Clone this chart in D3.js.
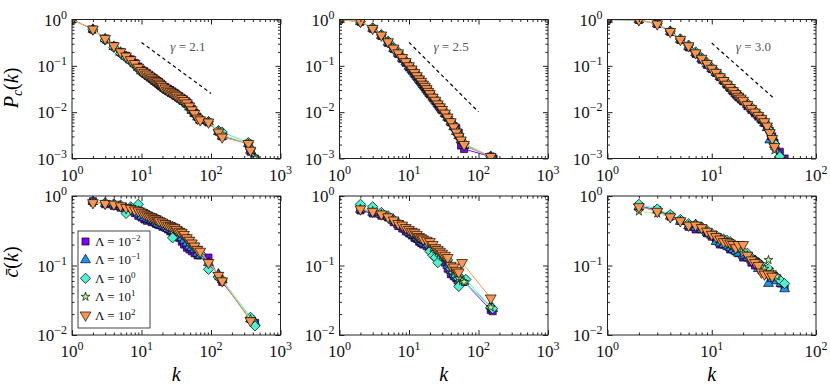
<!DOCTYPE html>
<html>
<head>
<meta charset="utf-8">
<style>
  body { margin: 0; background: #fff; }
  svg { display: block; }
  text { font-family: "Liberation Serif", "Times New Roman", serif; }
</style>
</head>
<body>
<svg id="chart" width="830" height="388" font-family="Liberation Serif, serif"></svg>
<script src="https://d3js.org/d3.v7.min.js"></script>
<script>
// ---- data -------------------------------------------------------------
var lambdaExp = ["\u22122", "\u22121", "0", "1", "2"]
var seriesColors = ["#8000ff", "#1a96f2", "#4df2ce", "#b3f296", "#ff964f"]
var gammas = ["2.1", "2.5", "3.0"]
var xMax = [1000, 1000, 100]

// top row: P_c(k)
var k_pc21 = [1,2,3,4,5,6,7,8,9,10,11,12,13,14,15,16,17,18,19,20,22,24,26,28,30,32,35,38,41,45,49,53,58,64,70,92,128,145,345,370,430]
var pc21_Lm2 = [1,.61,.39,.27,.20,.165,.138,.116,.097,.083, .076,.069,.063,.058,.054,.050,.047,.044,.041,.038, .035,.032,.030,.028,.026, .024,.022,.020,.0185,.0165,.0140,.0118,.0098,.0080,.0068, .0060,.0038,.0030, .0021,.0014,.0010]
var pc21_Lm1 = [1,.61,.38,.26,.195,.158,.132,.110,.091,.077, .070,.064,.058,.054,.050,.046,.043,.040,.038,.035, .032,.029,.027,.025,.024, .022,.020,.019,.017,.015,.0128,.0108,.0093,.0078,.0067, .0061,.0038,.0030, .0021,.0015,.0010]
var pc21_L0  = [1,.60,.36,.25,.185,.150,.125,.104,.087,.073, .066,.060,.055,.050,.047,.044,.041,.038,.036,.033, .030,.028,.026,.024,.023, .021,.019,.018,.016,.0145,.0125,.0106,.0092,.0078,.0068, .0062,.0040,.0037, .0022,.0016,.0010]
var pc21_L1  = [1,.61,.37,.26,.19,.155,.130,.108,.090,.076, .069,.063,.057,.052,.049,.045,.042,.039,.037,.034, .031,.029,.027,.025,.024, .022,.020,.018,.017,.015,.013,.011,.0094,.0078,.0068, .0061,.0039,.0033, .0021,.0015,.0010]
var pc21_L2  = [1,.62,.39,.27,.20,.162,.135,.112,.093,.079, .072,.066,.060,.055,.051,.048,.045,.042,.039,.036, .033,.030,.028,.026,.0245, .023,.021,.0195,.0178,.0158,.0135,.0112,.0093,.0074,.0068, .0061,.0037,.0029, .0021,.0015,null]

var k_pc25 = [1,2,3,4,5,6,7,8,9,10,11,12,13,14,15,16,17,18,19,20,22,24,26,28,30,33,36,40,44,48,52,56,62,150,165]
var pc25_Lm2 = [1,.90,.63,.44,.31,.23,.18,.14,.115,.092, .078,.066,.057,.049,.043,.038,.034,.030,.027,.024, .020,.017,.0145,.0125,.011, .0092,.0076,.0060,.0050,.0045,.0036,.0019,.0016,.0011,.0010]
var pc25_Lm1 = [1,.90,.64,.45,.32,.235,.185,.145,.12,.097, .082,.069,.059,.051,.045,.039,.035,.031,.028,.025, .021,.018,.015,.013,.0112, .0093,.0077,.0061,.0048,.0038,.0031,.0025,.0019,.0011,.0010]
var pc25_L0  = [1,.89,.66,.47,.34,.25,.20,.155,.127,.104, .088,.074,.064,.055,.048,.042,.037,.033,.029,.026, .022,.019,.016,.0135,.0118, .0098,.0080,.0064,.0050,.0039,.0032,.0026,.0021,.0011,null]
var pc25_L1  = [1,.90,.65,.46,.33,.24,.19,.15,.123,.10, .085,.071,.061,.052,.046,.040,.036,.032,.028,.025, .021,.018,.015,.013,.0114, .0095,.0078,.0062,.0048,.0037,.0030,.0025,.0020,.0011,null]
var pc25_L2  = [1,.90,.64,.46,.33,.24,.19,.15,.123,.10, .085,.071,.061,.052,.046,.040,.036,.032,.028,.025, .021,.018,.015,.013,.0114, .0095,.0078,.0062,.0048,.0037,.0030,.0025,.0020,.0011,null]

var k_pc30 = [1,2,3,4,5,6,7,8,9,10,11,12,13,14,15,16,17,18,19,20,22,24,26,28,30,32,34,36,38,40,45,50]
var pc30_Lm2 = [1,.98,.80,.54,.36,.25,.18,.135,.105,.085, .070,.057,.047,.039,.033,.028,.024,.021,.019,.017, .0135,.0112,.0094,.0080,.0068, .0058,.0048,.0040,.0030,.0022,.0014,.0010]
var pc30_Lm1 = [1,.98,.80,.55,.37,.26,.19,.14,.11,.087, .071,.058,.048,.040,.034,.029,.025,.022,.020,.018, .0145,.0120,.0100,.0085,.0070, .0058,.0046,.0025,.0030,.0020,.0012,null]
var pc30_L0  = [1,.98,.81,.56,.38,.28,.20,.15,.117,.092, .075,.061,.051,.043,.036,.031,.027,.024,.021,.019, .0155,.0128,.0106,.0090,.0077, .0064,.0052,.0040,.0029,.0021,.0011,null]
var pc30_L1  = [1,.98,.80,.55,.37,.27,.19,.145,.112,.088, .072,.058,.048,.040,.034,.029,.025,.022,.020,.018, .0145,.0120,.0100,.0085,.0072, .0060,.0048,.0035,.0024,.0015,null,null]
var pc30_L2  = [1,.98,.80,.55,.37,.27,.19,.145,.112,.088, .072,.058,.048,.040,.034,.029,.025,.022,.020,.018, .0145,.0120,.0100,.0085,.0073, .0062,.0050,.0036,.0027,.0018,null,null]

// bottom row: mean clustering c(k)
var k_ck21 = [2,3,4,5,6,7,8,9,10,11,12,13,14,15,16,17,18,20,22,24,26,28,30,32,35,38,41,45,49,53,58,64,70,92,128,145,370,430]
var ck21_Lm2 = [.84,.76,.72,.68,.62,.62,.57,.52,.49,.46,.44,.46,.42,.43,.40,.39,.38, .36,.35,.33,.31,.30,.28, .26,.25,.22,.20,.18,.17,.16,.15,.14,.14, .13,.070,.058, .017,.015]
var ck21_Lm1 = [.83,.78,.74,.70,.65,.63,.59,.55,.51,.49,.47,.46,.45,.44,.42,.40,.39, .38,.36,.34,.33,.32,.30, .28,.27,.25,.23,.21,.19,.18,.17,.15,.14, .11,.075,.062, .017,.015]
var ck21_L0  = [.82,.80,.77,.74,.56,.70,.66,.76,.60,.57,.55,.52,.50,.48,.47,.45,.44, .41,.40,.38,.36,.25,.34, .32,.30,.30,.27,.25,.22,.20,.18,.17,.15, .088,.068,.062, .018,.0135]
var ck21_L1  = [.80,.79,.76,.73,.69,.67,.64,.62,.59,.56,.54,.52,.50,.49,.47,.46,.45, .43,.41,.39,.38,.37,.36, .34,.32,.31,.29,.26,.24,.22,.20,.18,.16, .11,.075,.062, .017,null]
var ck21_L2  = [.80,.78,.76,.72,.68,.66,.63,.61,.58,.55,.53,.51,.50,.48,.47,.45,.44, .42,.40,.38,.37,.36,.35, .33,.31,.30,.28,.25,.23,.21,.19,.17,.16, .11,.072,.060, .016,null]

var k_ck25 = [2,3,4,5,6,7,8,9,10,11,12,13,14,15,16,18,20,22,24,26,28,30,33,36,40,44,48,52,58,62,66,150,160]
var ck25_Lm2 = [.62,.56,.52,.49,.42,.37,.34,.31,.29,.27,.25,.24,.22,.21,.20, .19,.17,.16,.15,.14,.13,.12, .11,.09,.075,.070,.065,.055,.060,.058,null, .023,.022]
var ck25_Lm1 = [.64,.58,.54,.50,.44,.39,.36,.33,.30,.28,.27,.25,.24,.22,.21, .20,.18,.17,.16,.15,.14,.13, .12,.10,.085,.075,.068,.060,.062,.058,null, .026,.024]
var ck25_L0  = [.76,.70,.58,.52,.46,.41,.38,.35,.32,.30,.29,.27,.25,.24,.23, .21,.16,.14,.13,.11,.14,.15, .13,.12,.09,.08,.07,.050,.063,.060,.063, .025,.024]
var ck25_L1  = [.66,.61,.55,.50,.45,.41,.38,.35,.32,.30,.29,.27,.26,.24,.23, .22,.20,.18,.17,.16,.15,.14, .13,.11,.09,.082,.075,.065,.060,.058,null, .025,null]
var ck25_L2  = [.65,.60,.55,.50,.45,.40,.38,.35,.33,.31,.30,.28,.26,.25,.24, .23,.22,.20,.18,.17,.16,.15, .14,.13,.10,.095,.085,.080,.110,null,null, .034,null]

var k_ck30 = [2,3,4,5,6,7,8,9,10,11,12,13,14,15,16,17,18,20,22,24,26,28,30,32,35,38,42,46,50]
var ck30_Lm2 = [.72,.63,.52,.44,.36,.33,.33,.29,.26,.24,.20,.20,.19,.17,.17,.16,.15, .13,.13,.11,.10,.10,.085, .08,.075,.07,.065,.055,.050]
var ck30_Lm1 = [.70,.62,.51,.43,.37,.35,.33,.30,.27,.22,.21,.20,.19,.18,.17,.16,.15, .14,.13,.12,.11,.09,.10, .085,.055,.065,.060,.055,.046]
var ck30_L0  = [.76,.65,.54,.46,.40,.39,.36,.32,.29,.27,.25,.24,.23,.22,.20,.19,.18, .16,.15,.13,.12,.11,.10, .095,.09,.075,.068,.060,.055]
var ck30_L1  = [.60,.56,.50,.44,.38,.40,.36,.31,.28,.26,.24,.23,.22,.20,.19,.18,.17, .15,.14,.13,.12,.11,.095, .09,.12,.08,.07,null,null]
var ck30_L2  = [.70,.60,.50,.44,.38,.38,.35,.31,.28,.26,.24,.22,.22,.21,.20,.18,.20, .20,.14,.12,.11,.10,.08, .075,.075,.070,null,null,null]

// ---- layout -----------------------------------------------------------
var colLeft = [72, 339.5, 607.5], plotW = 208.5
var rowTop = [19.5, 196], plotH = 139

var panels = [
    {row: 0, col: 0, k: k_pc21, ys: [pc21_Lm2, pc21_Lm1, pc21_L0, pc21_L1, pc21_L2], yMin: 1e-3},
    {row: 0, col: 1, k: k_pc25, ys: [pc25_Lm2, pc25_Lm1, pc25_L0, pc25_L1, pc25_L2], yMin: 1e-3},
    {row: 0, col: 2, k: k_pc30, ys: [pc30_Lm2, pc30_Lm1, pc30_L0, pc30_L1, pc30_L2], yMin: 1e-3},
    {row: 1, col: 0, k: k_ck21, ys: [ck21_Lm2, ck21_Lm1, ck21_L0, ck21_L1, ck21_L2], yMin: 1e-2},
    {row: 1, col: 1, k: k_ck25, ys: [ck25_Lm2, ck25_Lm1, ck25_L0, ck25_L1, ck25_L2], yMin: 1e-2},
    {row: 1, col: 2, k: k_ck30, ys: [ck30_Lm2, ck30_Lm1, ck30_L0, ck30_L1, ck30_L2], yMin: 1e-2}
]

// guide lines  P ~ k^(1-gamma), drawn from k=10
var guideP0 = [0.32, 0.32, 0.31]
var guideKEnd = [100, 100, 40]
var noteK = [26, 22.5, 17], noteP = 0.21

var markers = [
    {type: d3.symbolSquare, size: 50, rot: 0},
    {type: d3.symbolTriangle, size: 42, rot: 0},
    {type: d3.symbolSquare, size: 52, rot: 45},
    {type: d3.symbolStar, size: 24, rot: 0},
    {type: d3.symbolTriangle, size: 50, rot: 180}
]

var svg = d3.select("#chart")
var axisColor = "#222"

function isPow10(v) {
    var l = Math.log10(v)
    return Math.abs(l - Math.round(l)) < 1e-9
}

function powLabel(sel, exp, big, small, rise) {
    sel.append("tspan").text("10").attr("font-size", big)
    sel.append("tspan").text(exp).attr("font-size", small).attr("dy", -rise)
}

function expText(v) {
    var e = Math.round(Math.log10(v))
    return e < 0 ? "\u2212" + (-e) : "" + e
}

function drawMarker(g, i, px, py, color) {
    var m = markers[i]
    g.append("path")
        .attr("d", d3.symbol().type(m.type).size(m.size)())
        .attr("transform", "translate(" + px + "," + py + ") rotate(" + m.rot + ")")
        .attr("fill", color)
        .attr("stroke", "#000")
        .attr("stroke-opacity", 0.85)
        .attr("stroke-width", 0.8)
}

panels.forEach(function(p, pi) {
    var L = colLeft[p.col], T = rowTop[p.row]
    var x = d3.scaleLog().domain([1, xMax[p.col]]).range([L, L + plotW])
    var y = d3.scaleLog().domain([p.yMin, 1]).range([T + plotH, T])
    var g = svg.append("g")

    var clipId = "clip-" + pi
    g.append("clipPath").attr("id", clipId)
        .append("rect").attr("x", L).attr("y", T).attr("width", plotW).attr("height", plotH)

    var plot = g.append("g").attr("clip-path", "url(#" + clipId + ")")

    p.ys.forEach(function(vals, si) {
        var pts = p.k.map(function(kk, j) { return [kk, vals[j]] })
            .filter(function(d) { return d[1] != null })
        plot.append("path")
            .attr("d", d3.line().x(function(d) { return x(d[0]) }).y(function(d) { return y(d[1]) })(pts))
            .attr("fill", "none")
            .attr("stroke", seriesColors[si])
            .attr("stroke-width", 1)
        pts.forEach(function(d) { drawMarker(plot, si, x(d[0]), y(d[1]), seriesColors[si]) })
    })

    // guide line and gamma note on the top row
    if (p.row == 0) {
        var gm = +gammas[p.col]
        var gp = [10, guideKEnd[p.col]].map(function(kk) { return [kk, guideP0[p.col] * Math.pow(kk / 10, 1 - gm)] })
        g.append("path")
            .attr("d", d3.line().x(function(d) { return x(d[0]) }).y(function(d) { return y(d[1]) })(gp))
            .attr("stroke", "#000")
            .attr("stroke-width", 1.2)
            .attr("stroke-dasharray", "3.5,3")
        var note = g.append("text")
            .attr("x", x(noteK[p.col])).attr("y", y(noteP))
            .attr("font-size", 13).attr("fill", "#555")
        note.append("tspan").text("\u03b3").attr("font-style", "italic")
        note.append("tspan").text(" = " + gammas[p.col])
    }

    // ticks on all four sides, pointing inward
    var xt = x.ticks(), yt = y.ticks()
    var xMaj = xt.filter(isPow10), xMin = xt.filter(function(v) { return !isPow10(v) })
    var yMaj = yt.filter(isPow10), yMin = yt.filter(function(v) { return !isPow10(v) })
    function ax(axisFn, scale, vals, size, tx, ty) {
        g.append("g")
            .attr("transform", "translate(" + tx + "," + ty + ")")
            .attr("color", axisColor)
            .call(axisFn(scale).tickValues(vals).tickSize(-size).tickFormat(""))
            .call(function(s) { s.select(".domain").remove() })
    }
    ax(d3.axisBottom, x, xMaj, 5, 0, T + plotH)
    ax(d3.axisBottom, x, xMin, 2.5, 0, T + plotH)
    ax(d3.axisTop, x, xMaj, 5, 0, T)
    ax(d3.axisTop, x, xMin, 2.5, 0, T)
    ax(d3.axisLeft, y, yMaj, 5, L, 0)
    ax(d3.axisLeft, y, yMin, 2.5, L, 0)
    ax(d3.axisRight, y, yMaj, 5, L + plotW, 0)
    ax(d3.axisRight, y, yMin, 2.5, L + plotW, 0)

    g.append("rect")
        .attr("x", L).attr("y", T).attr("width", plotW).attr("height", plotH)
        .attr("fill", "none").attr("stroke", axisColor).attr("stroke-width", 1)

    xMaj.forEach(function(v) {
        var t = g.append("text").attr("x", x(v)).attr("y", T + plotH + 22)
            .attr("text-anchor", "middle").attr("fill", "#111")
        powLabel(t, expText(v), 17, 12, 7)
    })
    yMaj.forEach(function(v) {
        var t = g.append("text").attr("x", L - 5).attr("y", y(v) + 6)
            .attr("text-anchor", "end").attr("fill", "#111")
        powLabel(t, expText(v), 17, 12, 7)
    })

    if (p.row == 1) {
        g.append("text").attr("x", L + plotW / 2).attr("y", 381)
            .attr("text-anchor", "middle").attr("font-size", 20).attr("font-style", "italic")
            .text("k")
    }
})

// y labels
var yl1 = svg.append("text").attr("transform", "translate(18,88) rotate(-90)")
    .attr("text-anchor", "middle").attr("font-size", 20)
yl1.append("tspan").text("P").attr("font-style", "italic")
yl1.append("tspan").text("c").attr("font-style", "italic").attr("font-size", 14).attr("dy", 4)
yl1.append("tspan").text("(").attr("dy", -4)
yl1.append("tspan").text("k").attr("font-style", "italic")
yl1.append("tspan").text(")")

var yl2 = svg.append("text").attr("transform", "translate(18,262) rotate(-90)")
    .attr("text-anchor", "middle").attr("font-size", 20)
yl2.append("tspan").text("c\u0304").attr("font-style", "italic")
yl2.append("tspan").text("(")
yl2.append("tspan").text("k").attr("font-style", "italic")
yl2.append("tspan").text(")")

// legend
var lg = svg.append("g")
lg.append("rect").attr("x", 78).attr("y", 231).attr("width", 72).attr("height", 97)
    .attr("fill", "#fff").attr("stroke", "#444").attr("stroke-width", 1)
lambdaExp.forEach(function(e, i) {
    var cy = 241.5 + i * 18.4
    drawMarker(lg, i, 85.5, cy, seriesColors[i])
    var t = lg.append("text").attr("x", 95).attr("y", cy + 4.5).attr("font-size", 13).attr("fill", "#111")
    t.append("tspan").text("\u039b = ")
    powLabel(t, e, 13, 9, 5)
})
</script>
</body>
</html>
